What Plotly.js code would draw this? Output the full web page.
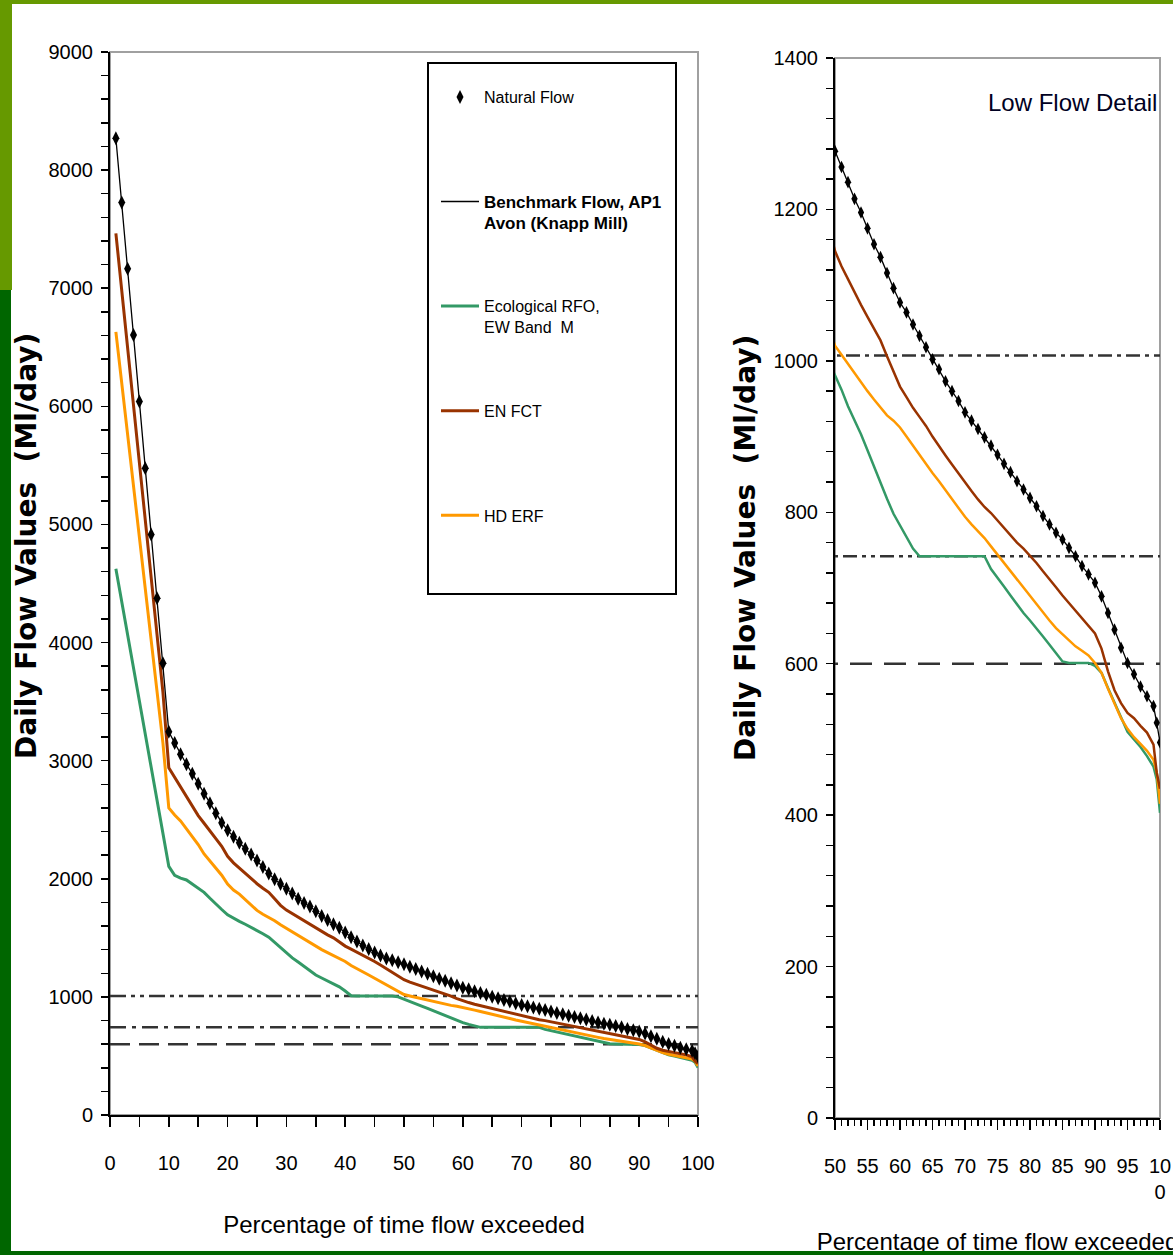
<!DOCTYPE html>
<html><head><meta charset="utf-8">
<script src="https://cdn.plot.ly/plotly-3.0.1.min.js"></script>
<style>
html,body{margin:0;padding:0;background:#fff;}
#chart{position:absolute;left:0;top:0;width:1173px;height:1255px;}
.frame{position:absolute;pointer-events:none;z-index:10;}
</style></head><body>
<div id="chart"></div>
<div class="frame" style="left:0;top:0;width:1173px;height:4px;background:#669900"></div>
<div class="frame" style="left:0;top:0;width:12px;height:290px;background:#669900"></div>
<div class="frame" style="left:0;top:290px;width:11px;height:965px;background:#006600"></div>
<div class="frame" style="left:0;top:1251px;width:1173px;height:4px;background:#006600"></div>
<script>
// ---- data ----
const pct = [1,2,3,4,5,6,7,8,9,10,11,12,13,14,15,16,17,18,19,20,21,22,23,24,25,26,27,28,29,30,
  31,32,33,34,35,36,37,38,39,40,41,42,43,44,45,46,47,48,49,50,51,52,53,54,55,56,57,58,59,60,
  61,62,63,64,65,66,67,68,69,70,71,72,73,74,75,76,77,78,79,80,81,82,83,84,85,86,87,88,89,90,
  91,92,93,94,95,96,97,98,99,99.5,100];
const naturalFlow = [8270,7725,7165,6605,6040,5475,4915,4375,3825,3245,
  3150,3055,2970,2890,2805,2720,2640,2555,2475,2410,
  2355,2305,2255,2205,2155,2100,2045,1995,1955,1915,
  1875,1830,1795,1765,1725,1685,1650,1615,1585,1545,
  1505,1470,1435,1405,1375,1350,1325,1310,1293,1277,
  1256,1236,1214,1196,1175,1154,1137,1116,1096,1077,
  1064,1048,1033,1018,1002,989,973,960,947,932,
  921,910,899,888,876,864,853,841,830,819,
  808,795,784,773,764,753,742,729,718,707,
  689,667,645,621,601,586,570,557,544,522,496];
const ecologicalRFO = [4625,4345,4065,3785,3505,3225,2945,2665,2385,2105,
  2030,2005,1990,1955,1915,1885,1835,1785,1740,1695,
  1665,1640,1615,1590,1560,1535,1505,1460,1415,1370,
  1330,1295,1260,1220,1185,1160,1135,1110,1085,1050,
  1010,1008,1008,1008,1008,1008,1008,1008,1000,982,
  962,940,922,903,882,860,840,818,798,782,
  767,752,742,742,742,742,742,742,742,742,
  742,742,742,725,714,702,690,678,667,657,
  647,636,625,614,603,601,601,601,601,597,
  588,568,549,530,510,500,490,478,464,447,403];
const enFCT = [7465,6985,6505,6025,5545,5065,4585,4105,3580,2940,
  2860,2785,2700,2620,2535,2470,2400,2340,2275,2190,
  2135,2090,2045,2000,1958,1920,1885,1830,1775,1735,
  1705,1672,1640,1608,1580,1555,1525,1500,1465,1430,
  1405,1380,1355,1330,1300,1270,1240,1210,1178,1145,
  1125,1108,1090,1074,1058,1043,1027,1006,985,966,
  952,938,926,914,900,887,875,863,851,840,
  828,817,807,799,789,779,769,760,752,743,
  733,722,712,701,690,680,670,660,651,640,
  620,590,565,548,535,528,518,509,493,456,435];
const hdERF = [6630,6200,5765,5330,4900,4465,4030,3600,3150,2600,
  2540,2490,2425,2365,2290,2210,2150,2085,2030,1955,
  1905,1870,1822,1780,1732,1700,1675,1645,1610,1580,
  1550,1515,1485,1455,1430,1400,1375,1350,1325,1300,
  1265,1240,1212,1185,1158,1130,1103,1075,1048,1020,
  1008,996,984,971,960,949,938,928,921,912,
  900,888,876,863,852,841,829,817,805,794,
  784,775,766,755,744,733,722,711,700,689,
  678,667,657,647,639,631,623,617,611,601,
  588,567,547,528,514,503,494,485,473,456,415];
const thresholds = [1007, 742, 600];
const thresholdSpan = [0, 100];
const leftXTicks = [0,10,20,30,40,50,60,70,80,90,100];
const leftXText = ['0','10','20','30','40','50','60','70','80','90','100'];
const leftYTicks = [0,1000,2000,3000,4000,5000,6000,7000,8000,9000];
const rightXTicks = [50,55,60,65,70,75,80,85,90,95,100];
const rightXText = ['50','55','60','65','70','75','80','85','90','95','10<br>0'];
const rightYTicks = [0,200,400,600,800,1000,1200,1400];
const names = {
  natural: 'Natural Flow<br> ',
  bench: '<span style="font-size:17px"><b>Benchmark Flow, AP1<br>Avon (Knapp Mill)</b></span>',
  eco: 'Ecological RFO,<br>EW Band  M',
  en: 'EN FCT<br> ',
  hd: 'HD ERF'
};

// ---- layout helpers ----
const W = 1173, H = 1255;
const fx = p => p / W;
const fy = p => 1 - p / H;
const SANS = 'Liberation Sans, Arial, sans-serif';
const BOLDF = 'DejaVu Sans, Verdana, sans-serif';
const GREEN = '#339966', BROWN = '#993300', ORANGE = '#FF9900';
const dashesL = ['16px,5px,4px,5px,4px,5px', '16px,6px,4px,6px', '20px,9px'];
const dashesR = ['14px,5px,4px,5px', '14px,5px,4px,5px,4px,5px', '22px,12px'];

const traces = [];
[['x','y',dashesL],['x2','y2',dashesR]].forEach(([xa, ya, dd], k) => {
  thresholds.forEach((t, i) => {
    traces.push({x: thresholdSpan, y: [t, t], xaxis: xa, yaxis: ya, mode: 'lines',
      line: {color: '#333', width: 2.5, dash: dd[i]}, showlegend: false, hoverinfo: 'skip'});
  });
  const lw = k === 0 ? 3 : 2.5;
  const leg = k === 0;
  traces.push({x: pct, y: ecologicalRFO, xaxis: xa, yaxis: ya, mode: 'lines', name: names.eco,
    legendgroup: 'eco', legendrank: 3, showlegend: leg, line: {color: GREEN, width: lw}});
  traces.push({x: pct, y: hdERF, xaxis: xa, yaxis: ya, mode: 'lines', name: names.hd,
    legendgroup: 'hd', legendrank: 5, showlegend: leg, line: {color: ORANGE, width: lw}});
  traces.push({x: pct, y: enFCT, xaxis: xa, yaxis: ya, mode: 'lines', name: names.en,
    legendgroup: 'en', legendrank: 4, showlegend: leg, line: {color: BROWN, width: lw}});
  traces.push({x: pct, y: naturalFlow, xaxis: xa, yaxis: ya, mode: 'lines', name: names.bench,
    legendgroup: 'bench', legendrank: 2, showlegend: leg, line: {color: '#000', width: 1.3}});
  traces.push({x: pct, y: naturalFlow, xaxis: xa, yaxis: ya, mode: 'markers', name: names.natural,
    legendgroup: 'nat', legendrank: 1, showlegend: leg,
    marker: {symbol: 'diamond-tall', size: k === 0 ? 10 : 9, color: '#000'}});
});

const tickFont = {family: SANS, size: 20, color: '#000'};
const baseAxis = {showline: true, linecolor: '#000', linewidth: 2, ticks: 'outside',
  tickcolor: '#000', tickwidth: 1.5, showgrid: false, zeroline: false, tickfont: tickFont,
  fixedrange: true, tickmode: 'array', ticklabeloverflow: 'allow'};

const layout = {
  width: W, height: H, autosize: false,
  margin: {l: 0, r: 0, t: 0, b: 0},
  paper_bgcolor: '#fff', plot_bgcolor: '#fff',
  hovermode: false,
  showlegend: true,
  legend: {x: fx(436), xanchor: 'left', y: fy(80), yanchor: 'top', bgcolor: 'rgba(0,0,0,0)',
    borderwidth: 0, font: {family: SANS, size: 16, color: '#000'}, tracegroupgap: 60,
    valign: 'top', traceorder: 'grouped', itemwidth: 38},
  xaxis: Object.assign({}, baseAxis, {domain: [fx(110), fx(698)], range: [0, 100], anchor: 'y',
    tickvals: leftXTicks, ticktext: leftXText, ticklen: 10, ticklabelstandoff: 19,
    minor: {dtick: 5, tick0: 0, ticks: 'outside', ticklen: 10, tickwidth: 1.5, tickcolor: '#000', showgrid: false},
    title: {text: 'Percentage of time flow exceeded', font: {family: SANS, size: 24, color: '#000'}, standoff: 43}}),
  yaxis: Object.assign({}, baseAxis, {domain: [fy(1115), fy(52)], range: [0, 9000], anchor: 'x',
    tickvals: leftYTicks, ticklen: 7, ticklabelstandoff: 4,
    minor: {dtick: 200, tick0: 0, ticks: 'outside', ticklen: 7, tickwidth: 1.5, tickcolor: '#000', showgrid: false}}),
  xaxis2: Object.assign({}, baseAxis, {domain: [fx(835), fx(1160)], range: [50, 100], anchor: 'y2',
    tickvals: rightXTicks, ticktext: rightXText, ticklen: 10, ticklabelstandoff: 19,
    minor: {dtick: 1, tick0: 0, ticks: 'outside', ticklen: 6, tickwidth: 1.2, tickcolor: '#000', showgrid: false},
    title: {text: 'Percentage of time flow exceeded', font: {family: SANS, size: 24, color: '#000'}, standoff: 34}}),
  yaxis2: Object.assign({}, baseAxis, {domain: [fy(1118), fy(58)], range: [0, 1400], anchor: 'x2',
    tickvals: rightYTicks, ticklen: 7, ticklabelstandoff: 4,
    minor: {dtick: 40, tick0: 0, ticks: 'outside', ticklen: 7, tickwidth: 1.5, tickcolor: '#000', showgrid: false}}),
  shapes: [
    {type: 'rect', xref: 'x domain', yref: 'y domain', x0: 0, x1: 1, y0: 0, y1: 1,
      line: {color: '#a0a0a0', width: 2}, layer: 'below'},
    {type: 'rect', xref: 'x2 domain', yref: 'y2 domain', x0: 0, x1: 1, y0: 0, y1: 1,
      line: {color: '#a0a0a0', width: 2}, layer: 'below'},
    {type: 'rect', xref: 'paper', yref: 'paper', x0: fx(428), x1: fx(676), y0: fy(594), y1: fy(63),
      line: {color: '#000', width: 2}, layer: 'above'}
  ],
  annotations: [
    {text: 'Daily Flow Values  (Ml/day)', xref: 'paper', yref: 'paper', x: fx(26), y: fy(546),
      xanchor: 'center', yanchor: 'middle', textangle: -90, showarrow: false,
      font: {family: BOLDF, size: 28, color: '#000', weight: 'bold'}},
    {text: 'Daily Flow Values  (Ml/day)', xref: 'paper', yref: 'paper', x: fx(745), y: fy(548),
      xanchor: 'center', yanchor: 'middle', textangle: -90, showarrow: false,
      font: {family: BOLDF, size: 28, color: '#000', weight: 'bold'}},
    {text: 'Low Flow Detail', xref: 'paper', yref: 'paper', x: fx(1159), y: fy(103),
      xanchor: 'right', yanchor: 'middle', showarrow: false,
      font: {family: SANS, size: 24, color: '#000022'}}
  ]
};

Plotly.newPlot('chart', traces, layout, {displayModeBar: false, staticPlot: true});
</script>
</body></html>
